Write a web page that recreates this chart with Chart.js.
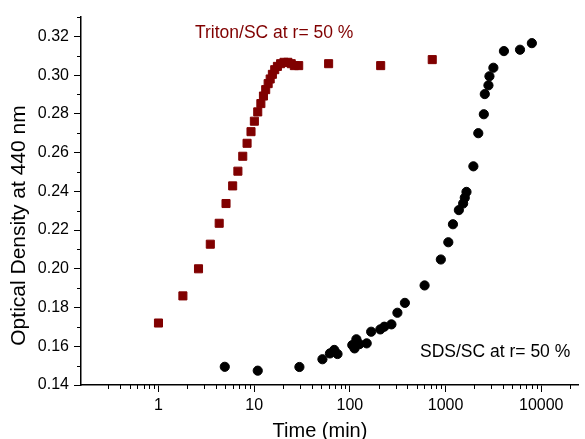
<!DOCTYPE html>
<html>
<head>
<meta charset="utf-8">
<script src="https://cdn.jsdelivr.net/npm/chart.js@4/dist/chart.umd.min.js"></script>
<style>
  body { margin: 0; background: #fff; }
</style>
</head>
<body>
<canvas id="odChart" width="585" height="439"></canvas>
<script>
// Triton/SC at r = 50 %  (time in min, OD at 440 nm)
const tritonTime = [1, 1.8, 2.62, 3.48, 4.31, 5.08, 5.96, 6.76, 7.6, 8.43, 9.27, 10.05, 10.9, 11.75, 12.5, 13.2, 14.0, 14.7, 15.5, 16.4, 17.5, 18.9, 20.5, 22.5, 24.4, 26.3, 29.2, 60, 210, 726];
const tritonOD = [0.172, 0.186, 0.200, 0.2127, 0.2235, 0.2337, 0.2428, 0.2504, 0.2581, 0.2648, 0.2708, 0.2762, 0.2810, 0.2853, 0.2892, 0.2925, 0.2956, 0.2980, 0.3004, 0.3028, 0.3045, 0.3059, 0.3066, 0.3066, 0.3059, 0.3049, 0.3049, 0.3059, 0.3049, 0.3080];

// SDS/SC at r = 50 %
const sdsTime = [4.93, 10.9, 29.7, 51.7, 61.9, 68.7, 74.3, 106, 112, 117, 126, 150, 167, 208, 229, 272, 314, 376, 604, 893, 1069, 1195, 1378, 1527, 1589, 1655, 1954, 2199, 2512, 2572, 2808, 2876, 3162, 4075, 6000, 7980];
const sdsOD = [0.1494, 0.1474, 0.1493, 0.1533, 0.1563, 0.1581, 0.156, 0.1606, 0.1589, 0.1636, 0.1611, 0.1615, 0.1675, 0.1687, 0.1701, 0.1713, 0.1773, 0.1824, 0.1914, 0.2048, 0.2137, 0.2230, 0.2303, 0.2337, 0.2367, 0.2397, 0.2529, 0.2700, 0.2798, 0.2902, 0.2947, 0.2994, 0.3038, 0.3124, 0.3131, 0.3165];

// axis ticks
const xLabelValues = [1, 10, 100, 1000, 10000];
const yLabelValues = [0.14, 0.16, 0.18, 0.20, 0.22, 0.24, 0.26, 0.28, 0.30, 0.32];

const FONT = '"Liberation Sans", Arial, sans-serif';
const RED = '#800000';

const toPoints = (xs, ys) => xs.map((x, i) => ({ x: x, y: ys[i] }));

const isXMajor = v => xLabelValues.some(t => Math.abs(t - v) < 1e-9 * t);
const isYMajor = v => yLabelValues.some(t => Math.abs(t - v) < 1e-6);
const isXMinor = v => {
    const e = Math.floor(Math.log10(v) + 1e-9);
    const k = v / Math.pow(10, e);
    return Math.abs(k - Math.round(k)) < 1e-6 && Math.round(k) >= 2 && Math.round(k) <= 9;
};

// minor tick marks + text labels
const extrasPlugin = {
    id: 'extras',
    afterDraw(chart) {
        const c = chart.ctx;
        const xs = chart.scales.x, ys = chart.scales.y;
        const area = chart.chartArea;
        c.save();
        c.strokeStyle = '#000';
        c.lineWidth = 1;
        c.beginPath();
        xs.ticks.forEach(t => {
            if (isXMinor(t.value) && !isXMajor(t.value)) {
                const px = Math.round(xs.getPixelForValue(t.value)) + 0.5;
                c.moveTo(px, area.bottom);
                c.lineTo(px, area.bottom + 4);
            }
        });
        ys.ticks.forEach(t => {
            if (!isYMajor(t.value)) {
                const py = Math.round(ys.getPixelForValue(t.value)) + 0.5;
                c.moveTo(area.left, py);
                c.lineTo(area.left - 4, py);
            }
        });
        c.stroke();

        c.textAlign = 'left';
        c.textBaseline = 'alphabetic';
        c.font = '17.5px ' + FONT;
        c.fillStyle = RED;
        c.fillText('Triton/SC at r= 50 %', 195, 37.5);
        c.fillStyle = '#000';
        c.fillText('SDS/SC at r= 50 %', 420, 356.5);

        // axis titles
        c.textAlign = 'center';
        c.font = '20px ' + FONT;
        c.fillText('Time (min)', 320, 436.5);
        c.translate(25, 225.5);
        c.rotate(-Math.PI / 2);
        c.font = '21px ' + FONT;
        c.fillText('Optical Density at 440 nm', 0, 0);
        c.restore();
    }
};

const ctx = document.getElementById('odChart').getContext('2d');

new Chart(ctx, {
    type: 'scatter',
    data: {
        datasets: [
            {
                label: 'Triton/SC at r= 50 %',
                data: toPoints(tritonTime, tritonOD),
                pointStyle: 'rect',
                pointRadius: 5.7,
                backgroundColor: RED,
                borderColor: RED,
                borderWidth: 1
            },
            {
                label: 'SDS/SC at r= 50 %',
                data: toPoints(sdsTime, sdsOD),
                pointStyle: 'circle',
                pointRadius: 4.6,
                backgroundColor: '#000',
                borderColor: '#000',
                borderWidth: 1
            }
        ]
    },
    options: {
        responsive: false,
        animation: false,
        layout: { padding: { top: 17, left: 0, right: 0, bottom: 0 } },
        plugins: {
            legend: { display: false },
            tooltip: { enabled: false }
        },
        scales: {
            x: {
                type: 'logarithmic',
                min: 0.155,
                max: 24400,
                afterFit: s => { s.height = 54; },
                border: { color: '#000', width: 1.5 },
                grid: {
                    drawOnChartArea: false,
                    tickLength: 7,
                    tickColor: c => (c.tick && isXMajor(c.tick.value)) ? '#000' : 'rgba(0,0,0,0)'
                },
                ticks: {
                    autoSkip: false,
                    maxRotation: 0,
                    padding: 4,
                    color: '#000',
                    font: { family: FONT, size: 16 },
                    callback: v => isXMajor(v) ? String(Math.round(v)) : ''
                }
            },
            y: {
                min: 0.14,
                max: 0.33,
                afterFit: s => { s.width = 81; },
                border: { color: '#000', width: 1.5 },
                grid: {
                    drawOnChartArea: false,
                    tickLength: 7,
                    tickColor: c => (c.tick && isYMajor(c.tick.value)) ? '#000' : 'rgba(0,0,0,0)'
                },
                ticks: {
                    stepSize: 0.01,
                    autoSkip: false,
                    padding: 5,
                    color: '#000',
                    font: { family: FONT, size: 16 },
                    callback: v => isYMajor(v) ? v.toFixed(2) : ''
                }
            }
        }
    },
    plugins: [extrasPlugin]
});
</script>
</body>
</html>
